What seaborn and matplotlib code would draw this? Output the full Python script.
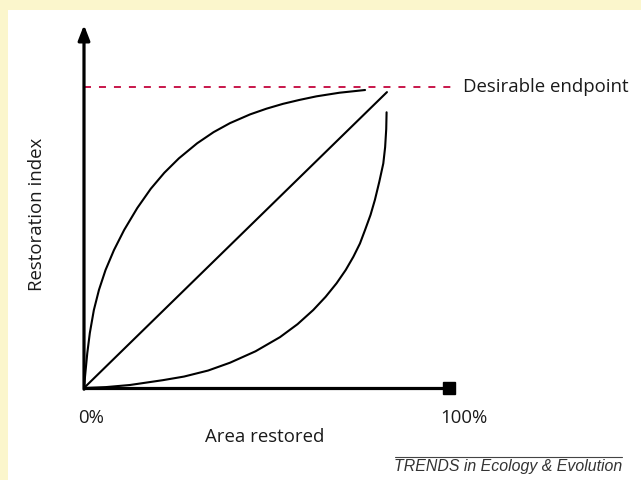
import numpy as np
import pandas as pd
import matplotlib
matplotlib.use("Agg")
import matplotlib.pyplot as plt
from matplotlib.patches import Rectangle
from matplotlib.lines import Line2D
import seaborn as sns

# area restored (%) vs restoration index (% of desirable endpoint)
concave_x = [0, 0.27, 0.9, 1.6, 2.7, 4.1, 5.9, 8.2, 11.0, 14.6, 18.3, 22.0, 26.0,
             31.0, 35.5, 40.0, 45.5, 50.0, 54.5, 59.0, 63.7, 70.0, 77.0]
concave_y = [0, 3.7, 11.6, 18.3, 25.9, 32.6, 39.2, 45.8, 52.5, 59.8, 66.2, 71.5, 76.3,
             81.3, 85.0, 88.0, 90.9, 92.8, 94.4, 95.7, 96.9, 98.1, 99.0]

linear_x = [0, 83.0]
linear_y = [0, 98.3]

convex_x = [0, 6.0, 12.6, 21.6, 27.4, 34.0, 40.0, 47.0, 53.7, 58.5, 62.8, 66.2, 69.2,
            71.7, 73.8, 75.6, 77.0, 78.5, 79.7, 80.9, 82.0, 82.5, 82.8, 82.9]
convex_y = [0, 0.3, 1.0, 2.6, 3.8, 5.8, 8.4, 12.2, 16.9, 21.2, 25.9, 30.3, 34.8,
            39.2, 43.6, 48.0, 52.5, 57.5, 62.5, 68.5, 74.6, 80.0, 86.0, 91.6]

endpoint = 100
x_ticks = [0, 100]
x_tick_labels = ["0%", "100%"]

sns.set_style("white")
plt.rcParams["font.family"] = ["Open Sans", "DejaVu Sans"]

W, H = 641, 480
fig = plt.figure(figsize=(W / 100, H / 100), dpi=100)
fig.patch.set_facecolor("white")

# yellow frame on the left and top
yellow = "#fbf6cc"
fig.add_artist(Rectangle((0, 0), 8 / W, 1, transform=fig.transFigure, color=yellow, lw=0))
fig.add_artist(Rectangle((0, 1 - 10 / H), 1, 10 / H, transform=fig.transFigure, color=yellow, lw=0))

# axes: origin at px (84, 388), x=100 at px 449, y=100 at px 87
x0, y0 = 84, 388
sy = 301 / 100
ytop = (y0 - 25) / sy
ax = fig.add_axes([x0 / W, (H - y0) / H, 365 / W, (y0 - 25) / H])
ax.set_xlim(0, 100)
ax.set_ylim(0, ytop)
ax.axis("off")

curves = pd.concat([
    pd.DataFrame({"area": concave_x, "index": concave_y, "curve": "concave"}),
    pd.DataFrame({"area": linear_x, "index": linear_y, "curve": "linear"}),
    pd.DataFrame({"area": convex_x, "index": convex_y, "curve": "convex"}),
])
sns.lineplot(data=curves, x="area", y="index", units="curve", estimator=None,
             sort=False, color="black", lw=1.5, legend=False, ax=ax)

# desirable endpoint
ax.plot([0, 101.2], [endpoint, endpoint], color="#c8174b", lw=1.4,
        dashes=(3.6, 4.1), clip_on=False)
ax.text(103.7, endpoint, "Desirable endpoint", fontsize=13.4, va="center", ha="left",
        color="#1a1a1a")

# axes lines
ax.plot([0, x_ticks[1]], [0, 0], color="black", lw=2.3, clip_on=False, solid_capstyle="butt")
ax.plot([x_ticks[1]], [0], marker="s", ms=8.5, color="black", clip_on=False)
ax.annotate("", xy=(0, ytop), xytext=(0, -0.4),
            arrowprops=dict(arrowstyle="-|>,head_length=0.9,head_width=0.35",
                            color="black", lw=2.3, shrinkA=0, shrinkB=0),
            annotation_clip=False)

# tick labels and axis titles
for lab, cx in zip(x_tick_labels, [91.5, 464]):
    fig.text(cx / W, 1 - 418 / H, lab, fontsize=13.4, ha="center", va="center", color="#1a1a1a")
fig.text(265 / W, 1 - 437 / H, "Area restored", fontsize=13.4, ha="center", va="center",
         color="#1a1a1a")
fig.text(37 / W, 1 - 214 / H, "Restoration index", fontsize=13.4, ha="center", va="center",
         rotation=90, color="#1a1a1a")

# journal credit
fig.add_artist(Line2D([395 / W, 622 / W], [1 - 457 / H, 1 - 457 / H],
                      transform=fig.transFigure, color="#444444", lw=0.8))
fig.text(622 / W, 1 - 467 / H, "TRENDS in Ecology & Evolution", fontsize=11.4,
         style="italic", ha="right", va="center", color="#333333",
         family=["Liberation Sans", "DejaVu Sans"])

fig.savefig("out.png", dpi=100)
